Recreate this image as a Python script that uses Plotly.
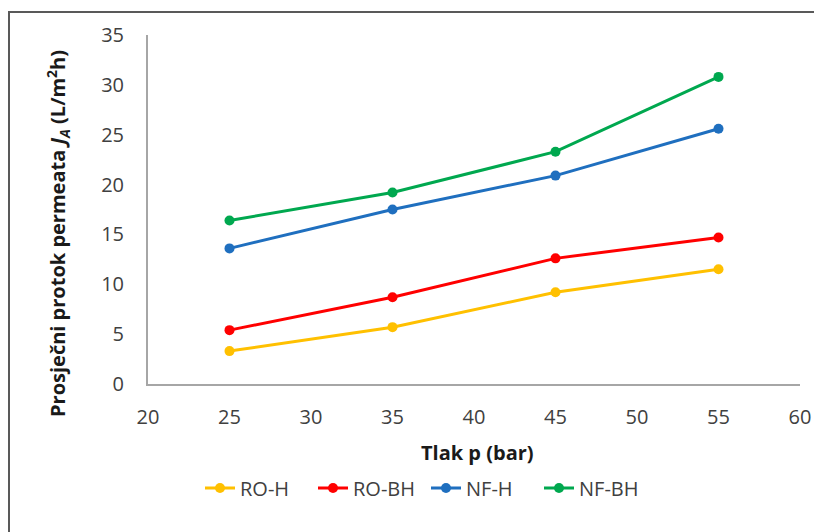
import plotly.graph_objects as go

pressure = [25, 35, 45, 55]
series_names = ["RO-H", "RO-BH", "NF-H", "NF-BH"]
ro_h = [3.3, 5.7, 9.2, 11.5]
ro_bh = [5.4, 8.7, 12.6, 14.7]
nf_h = [13.6, 17.5, 20.9, 25.6]
nf_bh = [16.4, 19.2, 23.3, 30.8]
colors = ["#FFC000", "#FF0000", "#1F6FBF", "#00A84F"]

FONT = "Open Sans"

fig = go.Figure()
for name, vals, col in zip(series_names, [ro_h, ro_bh, nf_h, nf_bh], colors):
    fig.add_trace(go.Scatter(
        x=pressure, y=vals, name=name, mode="lines+markers",
        line=dict(color=col, width=3),
        marker=dict(color=col, size=10),
    ))

# page body has an 8px margin, so work in figure coordinates = screen - 8
OFF = 8
W, H = 822 - OFF, 532 - OFF
L, R, T, B = 148 - OFF, 22, 35 - OFF, 148
pw, ph = W - L - R, H - T - B

def px(x):
    return (x - OFF - L) / pw

def py(y):
    return (H - B - (y - OFF)) / ph

fig.update_layout(
    width=W, height=H,
    margin=dict(l=L, r=R, t=T, b=B, autoexpand=False),
    paper_bgcolor="white", plot_bgcolor="white",
    font=dict(family=FONT, size=20, color="#404040"),
    showlegend=True,
    legend=dict(orientation="h", x=px(200), xanchor="left", y=py(488), yanchor="middle",
                font=dict(size=20, color="#404040"), entrywidth=68, entrywidthmode="pixels",
                tracegroupgap=0),
    xaxis=dict(range=[20, 60], dtick=5, showgrid=False, zeroline=False,
               showline=True, linecolor="#A6A6A6", linewidth=2, ticks="",
               tickfont=dict(size=20, color="#404040"), ticklabelstandoff=14),
    yaxis=dict(range=[0, 35], dtick=5, showgrid=False, zeroline=False,
               showline=True, linecolor="#A6A6A6", linewidth=2, ticks="",
               tickfont=dict(size=20, color="#404040"), ticklabelstandoff=18),
    shapes=[
        dict(type="line", xref="paper", yref="paper", x0=px(8), x1=px(835), y0=py(12), y1=py(12),
             line=dict(color="#595959", width=2)),
        dict(type="line", xref="paper", yref="paper", x0=px(9), x1=px(9), y0=py(12), y1=py(545),
             line=dict(color="#595959", width=2)),
    ],
    annotations=[
        dict(text="<b>Tlak p (bar)</b>", xref="paper", yref="paper", x=px(477), y=py(452),
             xanchor="center", yanchor="middle", showarrow=False,
             font=dict(size=20, color="#1a1a1a")),
        dict(text="<b>Prosječni protok permeata <i>J</i><sub><i>A</i></sub> (L/m<sup>2</sup>h)</b>",
             xref="paper", yref="paper", x=px(58), y=py(234), textangle=-90,
             xanchor="center", yanchor="middle", showarrow=False,
             font=dict(size=20, color="#1a1a1a")),
    ],
)

fig.write_html("out.html")
